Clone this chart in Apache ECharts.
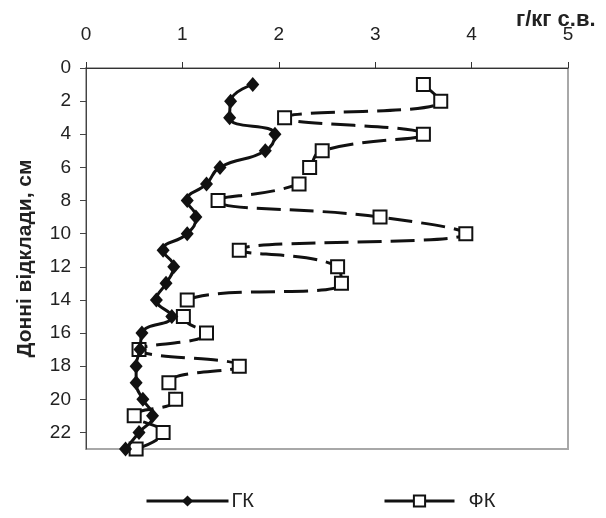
<!DOCTYPE html>
<html>
<head>
<meta charset="utf-8">
<script src="https://cdn.jsdelivr.net/npm/echarts@6/dist/echarts.min.js"></script>
<style>
  html, body { margin: 0; padding: 0; background: #fff; }
  #chart { width: 606px; height: 518px; }
</style>
</head>
<body>
<div id="chart"></div>
<script>
// глибина, см
let depth = [1, 2, 3, 4, 5, 6, 7, 8, 9, 10, 11, 12, 13, 14, 15, 16, 17, 18, 19, 20, 21, 22, 23];
// ГК, г/кг с.в.
let gk = [1.73, 1.50, 1.49, 1.96, 1.86, 1.39, 1.25, 1.05, 1.14, 1.05, 0.80, 0.91, 0.83, 0.73, 0.89, 0.58, 0.56, 0.52, 0.52, 0.59, 0.69, 0.55, 0.41];
// ФК, г/кг с.в.
let fk = [3.50, 3.68, 2.06, 3.50, 2.45, 2.32, 2.21, 1.37, 3.05, 3.94, 1.59, 2.61, 2.65, 1.05, 1.01, 1.25, 0.55, 1.59, 0.86, 0.93, 0.50, 0.80, 0.52];
// підписи осей
let yTicks = [0, 2, 4, 6, 8, 10, 12, 14, 16, 18, 20, 22];
let xTicks = [0, 1, 2, 3, 4, 5];

let font = 'Liberation Sans, Arial, sans-serif';

function pairs(vals) {
  return vals.map((v, i) => [v, depth[i]]);
}

let myChart = echarts.init(document.getElementById('chart'), null, { renderer: 'canvas' });
let option = {
  animation: false,
  backgroundColor: '#fff',
  grid: {
    left: 86,
    right: 38,
    top: 68,
    bottom: 69,
    show: true,
    borderColor: '#a8a8a8',
    borderWidth: 2
  },
  graphic: [{
    type: 'text',
    left: 516,
    top: 9,
    z: 10,
    style: {
      text: 'г/кг с.в.',
      font: 'bold 22px ' + font,
      fill: '#222'
    }
  }],
  legend: [{
    data: [{ name: 'ГК' }],
    left: 140,
    top: 486,
    itemWidth: 82,
    itemHeight: 14,
    lineStyle: { width: 3, color: '#111' },
    textStyle: { fontFamily: font, fontSize: 20, color: '#222', padding: [0, 0, 0, -2] }
  }, {
    data: [{ name: 'ФК', lineStyle: { type: 'solid', width: 3, color: '#111' } }],
    left: 378,
    top: 486,
    itemWidth: 70,
    itemHeight: 14,
    textStyle: { fontFamily: font, fontSize: 20, color: '#222', padding: [0, 0, 0, 9] }
  }],
  xAxis: {
    type: 'value',
    position: 'top',
    min: 0,
    max: 5,
    interval: 1,
    splitLine: { show: false },
    axisLine: { show: true, lineStyle: { color: '#333', width: 1 } },
    axisTick: { show: true, inside: false, length: 6, customValues: xTicks, lineStyle: { color: '#333' } },
    axisLabel: {
      customValues: xTicks,
      margin: 24,
      fontFamily: font,
      fontSize: 19,
      color: '#222'
    }
  },
  yAxis: {
    type: 'value',
    inverse: true,
    min: 0,
    max: 23,
    name: 'Донні відклади, см',
    nameLocation: 'middle',
    nameGap: 50,
    nameTextStyle: { fontFamily: font, fontSize: 21, fontWeight: 'bold', color: '#222' },
    splitLine: { show: false },
    axisLine: { show: true, lineStyle: { color: '#444', width: 1 } },
    axisTick: { show: true, length: 6, customValues: yTicks, lineStyle: { color: '#444' } },
    axisLabel: {
      customValues: yTicks,
      margin: 15,
      fontFamily: font,
      fontSize: 19,
      color: '#222'
    }
  },
  series: [{
    name: 'ГК',
    type: 'line',
    data: pairs(gk),
    smooth: 0.5,
    symbol: 'diamond',
    symbolSize: [13, 15],
    clip: false,
    z: 3,
    itemStyle: { color: '#111', borderColor: '#111', borderWidth: 0 },
    lineStyle: { color: '#111', width: 3 }
  }, {
    name: 'ФК',
    type: 'line',
    data: pairs(fk),
    smooth: 0.5,
    symbol: 'rect',
    symbolSize: 13,
    clip: false,
    z: 2,
    itemStyle: { color: '#fff', borderColor: '#111', borderWidth: 2 },
    lineStyle: { color: '#111', width: 3, type: [24, 9] }
  }]
};
myChart.setOption(option);
</script>
</body>
</html>
